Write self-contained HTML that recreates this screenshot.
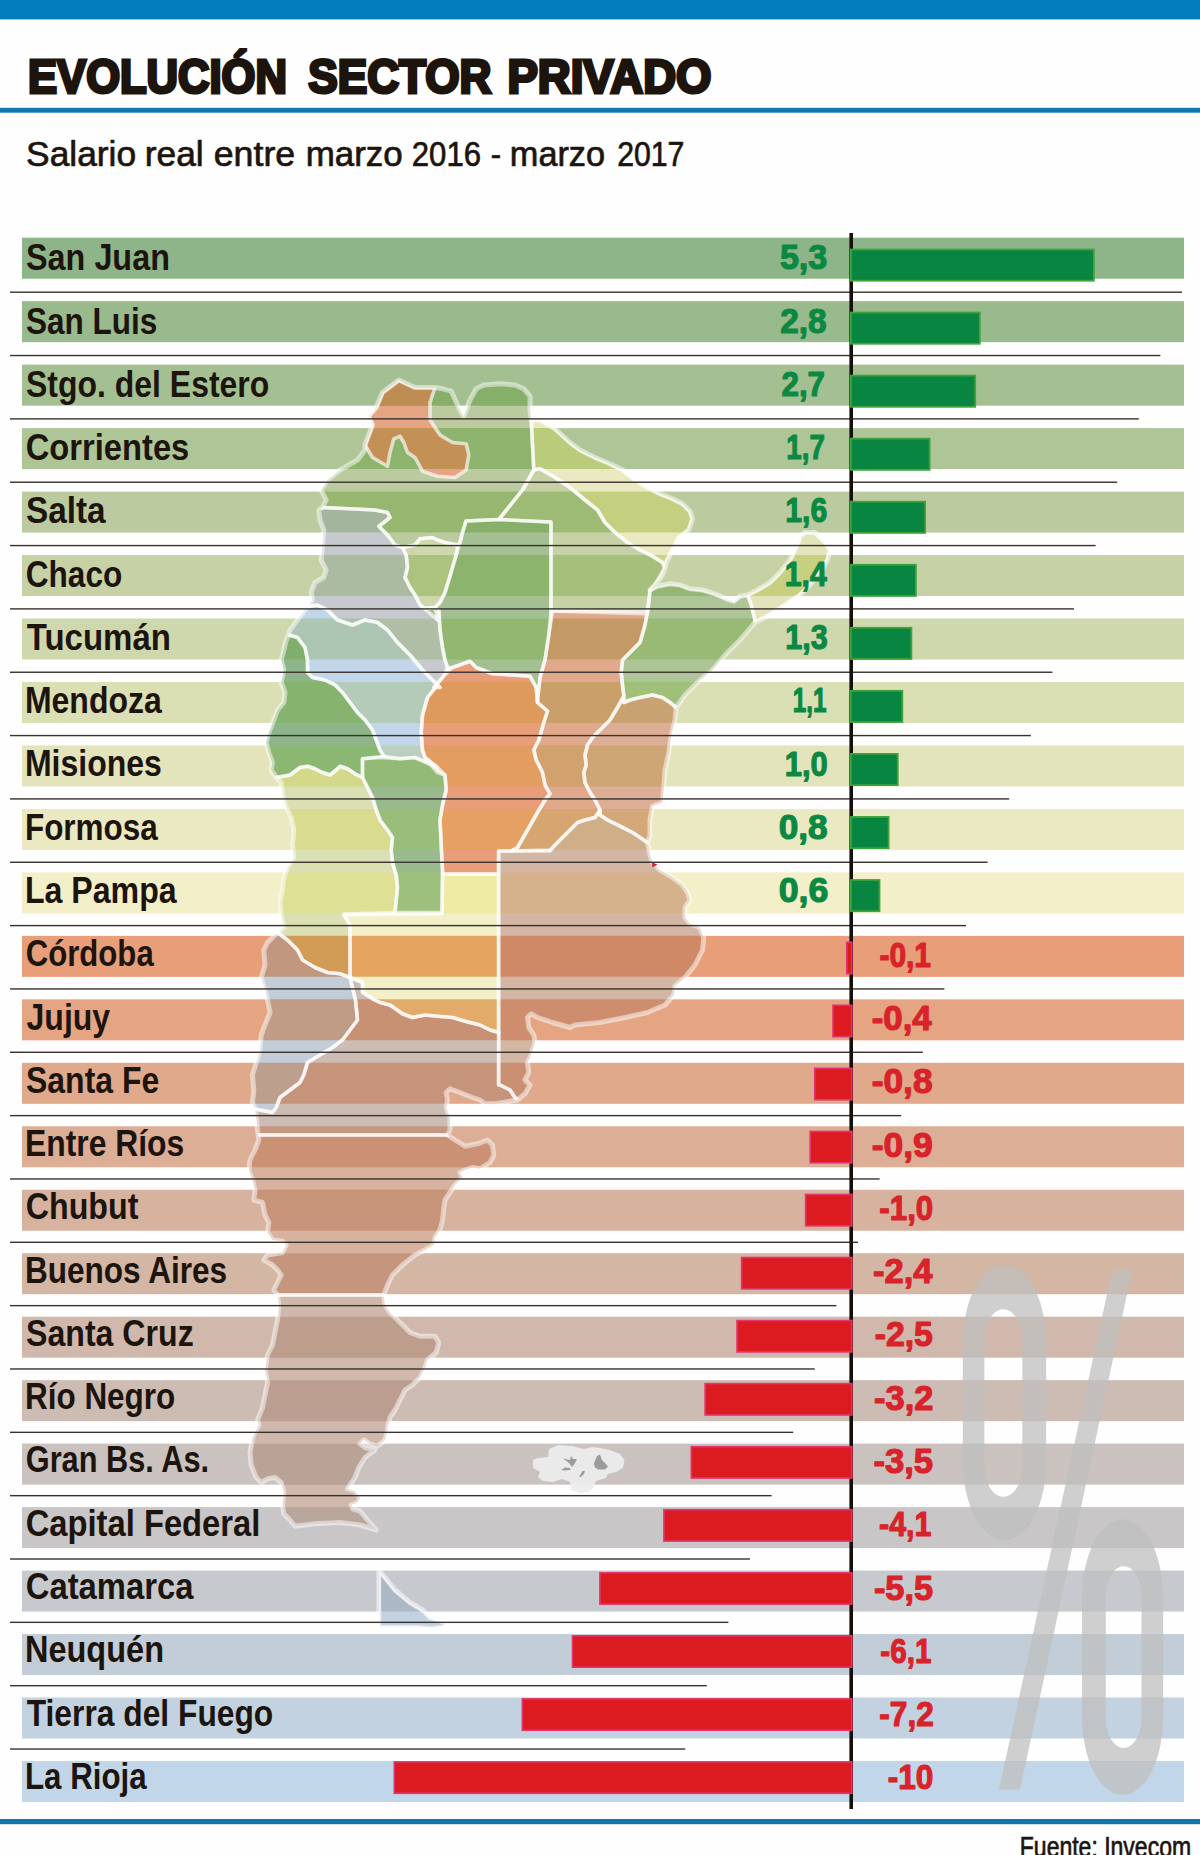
<!DOCTYPE html>
<html lang="es"><head><meta charset="utf-8"><title>Evolución sector privado</title>
<style>
html,body{margin:0;padding:0;background:#fff}
body{width:1200px;height:1855px;overflow:hidden}
svg{display:block;font-family:"Liberation Sans",sans-serif}
</style></head><body>
<svg width="1200" height="1855" viewBox="0 0 1200 1855">
<rect width="1200" height="1855" fill="#fefefe"/>
<rect x="0" y="0" width="1200" height="19.4" fill="#037cbb"/>
<rect x="0" y="107.8" width="1200" height="4.9" fill="#1076ae"/>
<rect x="0" y="1819" width="1200" height="5.2" fill="#1076ae"/>

<text transform="translate(28.07,92.90) scale(0.9186,1)" font-size="47.4" font-weight="bold" fill="#1c140d" stroke="#1c140d" stroke-width="3.2" stroke-linejoin="miter" stroke-miterlimit="2.5">EVOLUCIÓN</text>
<text transform="translate(308.28,92.90) scale(0.9315,1)" font-size="47.4" font-weight="bold" fill="#1c140d" stroke="#1c140d" stroke-width="3.2" stroke-linejoin="miter" stroke-miterlimit="2.5">SECTOR</text>
<text transform="translate(507.44,92.90) scale(0.9606,1)" font-size="47.4" font-weight="bold" fill="#1c140d" stroke="#1c140d" stroke-width="3.2" stroke-linejoin="miter" stroke-miterlimit="2.5">PRIVADO</text>
<text transform="translate(26.06,165.55) scale(0.9936,1)" font-size="35.6" font-weight="normal" fill="#1c140d" stroke="#1c140d" stroke-width="0.7" stroke-linejoin="round" stroke-miterlimit="2.5">Salario</text>
<text transform="translate(144.75,165.55) scale(0.9937,1)" font-size="35.6" font-weight="normal" fill="#1c140d" stroke="#1c140d" stroke-width="0.7" stroke-linejoin="round" stroke-miterlimit="2.5">real</text>
<text transform="translate(213.74,165.55) scale(1.0043,1)" font-size="35.6" font-weight="normal" fill="#1c140d" stroke="#1c140d" stroke-width="0.7" stroke-linejoin="round" stroke-miterlimit="2.5">entre</text>
<text transform="translate(305.68,165.55) scale(0.9816,1)" font-size="35.6" font-weight="normal" fill="#1c140d" stroke="#1c140d" stroke-width="0.7" stroke-linejoin="round" stroke-miterlimit="2.5">marzo</text>
<text transform="translate(411.79,165.55) scale(0.8743,1)" font-size="35.6" font-weight="normal" fill="#1c140d" stroke="#1c140d" stroke-width="0.7" stroke-linejoin="round" stroke-miterlimit="2.5">2016</text>
<text transform="translate(490.65,165.55) scale(0.8714,1)" font-size="35.6" font-weight="normal" fill="#1c140d" stroke="#1c140d" stroke-width="0.7" stroke-linejoin="round" stroke-miterlimit="2.5">-</text>
<text transform="translate(509.82,165.55) scale(0.9637,1)" font-size="35.6" font-weight="normal" fill="#1c140d" stroke="#1c140d" stroke-width="0.7" stroke-linejoin="round" stroke-miterlimit="2.5">marzo</text>
<text transform="translate(617.14,165.55) scale(0.8500,1)" font-size="35.6" font-weight="normal" fill="#1c140d" stroke="#1c140d" stroke-width="0.7" stroke-linejoin="round" stroke-miterlimit="2.5">2017</text>
<g id="bands">
<rect x="22" y="237.70" width="1162" height="41.0" fill="#8db589"/>
<rect x="22" y="301.17" width="1162" height="41.0" fill="#98ba8d"/>
<rect x="22" y="364.64" width="1162" height="41.0" fill="#a4c092"/>
<rect x="22" y="428.11" width="1162" height="41.0" fill="#aec598"/>
<rect x="22" y="491.58" width="1162" height="41.0" fill="#bccb9f"/>
<rect x="22" y="555.05" width="1162" height="41.0" fill="#c6d2a6"/>
<rect x="22" y="618.52" width="1162" height="41.0" fill="#cfd7ac"/>
<rect x="22" y="681.99" width="1162" height="41.0" fill="#dadfb4"/>
<rect x="22" y="745.46" width="1162" height="41.0" fill="#e3e4bb"/>
<rect x="22" y="808.93" width="1162" height="41.0" fill="#ebe9c2"/>
<rect x="22" y="872.40" width="1162" height="41.0" fill="#f3efc9"/>
<rect x="22" y="935.87" width="1162" height="41.0" fill="#e89e78"/>
<rect x="22" y="999.34" width="1162" height="41.0" fill="#e5a583"/>
<rect x="22" y="1062.81" width="1162" height="41.0" fill="#e0a98b"/>
<rect x="22" y="1126.28" width="1162" height="41.0" fill="#dcae95"/>
<rect x="22" y="1189.75" width="1162" height="41.0" fill="#d7b29e"/>
<rect x="22" y="1253.22" width="1162" height="41.0" fill="#d4b6a5"/>
<rect x="22" y="1316.69" width="1162" height="41.0" fill="#d0b9ac"/>
<rect x="22" y="1380.16" width="1162" height="41.0" fill="#cdbcb3"/>
<rect x="22" y="1443.63" width="1162" height="41.0" fill="#cac2be"/>
<rect x="22" y="1507.10" width="1162" height="41.0" fill="#c8c6c6"/>
<rect x="22" y="1570.57" width="1162" height="41.0" fill="#c6cacf"/>
<rect x="22" y="1634.04" width="1162" height="41.0" fill="#c3cdd8"/>
<rect x="22" y="1697.51" width="1162" height="41.0" fill="#c2d2e0"/>
<rect x="22" y="1760.98" width="1162" height="41.0" fill="#c1d6e8"/>
</g>
<defs>
<clipPath id="sil"><polygon points="398.8,380.0 415.0,387.5 435.0,387.5 442.5,388.8 451.2,391.2 457.5,405.0 461.2,412.5 463.8,416.2 466.2,410.0 470.0,400.0 476.2,388.8 483.8,385.0 500.0,383.8 515.0,385.0 523.8,388.8 530.0,396.2 530.0,410.0 531.2,420.0 540.0,420.0 555.0,428.8 570.0,442.5 580.0,450.0 595.0,457.5 610.0,463.8 622.5,470.0 635.0,480.0 647.5,487.5 660.0,493.8 672.5,498.8 682.5,503.8 690.0,511.2 692.5,518.8 688.8,530.0 678.8,537.5 672.5,550.0 666.2,562.5 665.0,567.5 662.5,575.0 655.0,585.0 650.0,590.0 657.5,586.2 670.0,583.8 680.0,585.0 690.0,588.8 702.5,590.0 715.0,593.8 726.2,598.8 733.8,601.2 740.0,596.2 747.5,595.0 757.5,590.0 770.0,582.5 780.0,572.5 790.0,560.0 797.5,545.0 800.0,536.2 805.0,532.5 815.0,532.5 825.0,542.5 830.0,550.0 827.5,560.0 820.0,572.5 810.0,585.0 800.0,595.0 790.0,601.2 777.5,610.0 765.0,617.5 755.0,622.5 740.0,640.0 725.0,655.0 712.5,670.0 700.0,680.0 685.0,695.0 676.2,707.5 675.0,720.0 671.2,735.0 668.8,752.5 665.0,770.0 663.8,787.5 662.5,802.5 652.5,806.2 650.0,820.0 650.0,835.0 647.5,842.5 650.0,855.0 652.5,862.5 660.0,870.0 672.5,877.5 682.5,885.0 687.5,892.5 690.0,900.0 685.0,907.5 685.0,917.5 690.0,923.8 700.0,927.5 703.8,937.5 702.5,950.0 695.0,965.0 685.0,977.5 675.0,986.2 673.8,995.0 665.0,1005.0 647.5,1012.5 625.0,1017.5 600.0,1022.5 575.0,1025.0 570.0,1027.5 552.5,1022.5 537.5,1017.5 531.2,1013.8 527.5,1017.5 528.8,1027.5 533.8,1035.0 535.0,1042.5 531.2,1055.0 527.5,1062.5 528.8,1072.5 525.0,1080.0 530.0,1085.0 525.0,1093.8 517.5,1100.0 495.0,1103.8 485.0,1103.8 480.0,1100.0 472.5,1097.5 460.0,1092.5 450.0,1088.8 446.2,1092.5 447.5,1100.0 446.2,1107.5 450.0,1117.5 450.0,1130.0 447.5,1135.0 455.0,1140.0 465.0,1146.2 477.5,1143.8 487.5,1140.0 492.5,1145.0 493.8,1155.0 490.0,1162.5 480.0,1168.8 472.5,1167.5 465.0,1170.0 460.0,1172.5 462.5,1177.5 455.0,1185.0 450.0,1192.5 445.0,1200.0 443.8,1207.5 442.5,1220.0 440.0,1230.0 435.0,1237.5 433.8,1245.0 425.0,1250.0 415.0,1255.0 402.5,1265.0 392.5,1275.0 387.5,1285.0 383.8,1295.0 385.0,1305.0 390.0,1312.5 400.0,1322.5 410.0,1332.5 420.0,1336.2 435.0,1336.2 438.8,1342.5 436.2,1352.5 427.5,1360.0 425.0,1367.5 420.0,1377.5 412.5,1385.0 405.0,1390.0 400.0,1400.0 395.0,1410.0 390.0,1417.5 387.5,1427.5 387.5,1430.0 385.0,1440.0 377.5,1446.2 370.0,1443.8 363.8,1440.0 360.0,1443.8 365.0,1447.5 375.0,1450.0 365.0,1457.5 358.8,1467.5 355.0,1477.5 350.0,1485.0 347.5,1488.8 355.0,1491.2 360.0,1497.5 357.5,1502.5 351.2,1505.0 352.5,1508.8 360.0,1511.2 367.5,1520.0 376.2,1530.0 360.0,1525.0 340.0,1522.5 315.0,1523.8 295.0,1526.2 290.0,1520.0 283.8,1513.8 282.5,1505.0 283.8,1492.5 281.2,1482.5 275.0,1477.5 267.5,1478.8 261.2,1482.5 256.2,1477.5 251.2,1465.0 250.0,1452.5 252.5,1437.5 258.8,1425.0 257.5,1420.0 262.5,1407.5 265.0,1395.0 267.5,1382.5 265.0,1370.0 267.5,1355.0 272.5,1345.0 275.0,1332.5 277.5,1320.0 278.8,1305.0 277.5,1295.0 273.8,1290.0 277.5,1282.5 281.2,1275.0 277.5,1270.0 272.5,1265.0 263.8,1260.0 267.5,1255.0 282.5,1252.5 286.2,1245.0 282.5,1241.2 272.5,1240.0 267.5,1232.5 268.8,1222.5 265.0,1215.0 262.5,1202.5 253.8,1200.0 255.0,1190.0 252.5,1180.0 248.8,1170.0 250.0,1160.0 255.0,1150.0 258.8,1140.0 257.5,1130.0 256.2,1117.5 255.0,1108.8 252.5,1102.5 253.8,1090.0 252.5,1075.0 256.2,1062.5 260.0,1050.0 261.2,1035.0 265.0,1025.0 270.0,1012.5 267.5,1000.0 265.0,990.0 261.2,977.5 265.0,965.0 263.8,950.0 267.5,942.5 277.5,932.5 283.8,927.5 281.2,915.0 280.0,902.5 282.5,890.0 283.8,877.5 287.5,867.5 293.8,857.5 292.5,845.0 293.8,830.0 291.2,817.5 286.2,807.5 282.5,795.0 281.2,782.5 276.2,777.5 271.2,770.0 272.5,762.5 268.8,752.5 266.2,742.5 268.8,732.5 273.8,720.0 277.5,710.0 283.8,702.5 285.0,692.5 281.2,682.5 283.8,670.0 281.2,660.0 283.8,650.0 286.2,640.0 287.5,637.5 290.0,630.0 297.5,620.0 305.0,610.0 312.5,600.0 311.2,592.5 315.0,582.5 323.8,577.5 326.2,570.0 321.2,560.0 322.5,545.0 323.8,530.0 320.0,520.0 318.8,510.0 322.5,507.5 326.2,500.0 321.2,490.0 327.5,480.0 340.0,470.0 357.5,460.0 365.0,450.0 365.0,445.0 372.5,425.0 368.8,416.2 376.2,407.5 382.5,392.5"/><polygon points="378.8,1570.0 385.0,1577.5 395.0,1590.0 410.0,1602.5 422.5,1610.0 430.0,1617.5 447.5,1623.8 442.5,1627.5 430.0,1628.8 415.0,1627.5 378.8,1627.5"/></clipPath>
<clipPath id="b0"><rect x="200" y="237.70" width="700" height="41.0"/></clipPath>
<clipPath id="b1"><rect x="200" y="301.17" width="700" height="41.0"/></clipPath>
<clipPath id="b2"><rect x="200" y="364.64" width="700" height="41.0"/></clipPath>
<clipPath id="b3"><rect x="200" y="428.11" width="700" height="41.0"/></clipPath>
<clipPath id="b4"><rect x="200" y="491.58" width="700" height="41.0"/></clipPath>
<clipPath id="b5"><rect x="200" y="555.05" width="700" height="41.0"/></clipPath>
<clipPath id="b6"><rect x="200" y="618.52" width="700" height="41.0"/></clipPath>
<clipPath id="b7"><rect x="200" y="681.99" width="700" height="41.0"/></clipPath>
<clipPath id="b8"><rect x="200" y="745.46" width="700" height="41.0"/></clipPath>
<clipPath id="b9"><rect x="200" y="808.93" width="700" height="41.0"/></clipPath>
<clipPath id="b10"><rect x="200" y="872.40" width="700" height="41.0"/></clipPath>
<clipPath id="b11"><rect x="200" y="935.87" width="700" height="41.0"/></clipPath>
<clipPath id="b12"><rect x="200" y="999.34" width="700" height="41.0"/></clipPath>
<clipPath id="b13"><rect x="200" y="1062.81" width="700" height="41.0"/></clipPath>
<clipPath id="b14"><rect x="200" y="1126.28" width="700" height="41.0"/></clipPath>
<clipPath id="b15"><rect x="200" y="1189.75" width="700" height="41.0"/></clipPath>
<clipPath id="b16"><rect x="200" y="1253.22" width="700" height="41.0"/></clipPath>
<clipPath id="b17"><rect x="200" y="1316.69" width="700" height="41.0"/></clipPath>
<clipPath id="b18"><rect x="200" y="1380.16" width="700" height="41.0"/></clipPath>
<clipPath id="b19"><rect x="200" y="1443.63" width="700" height="41.0"/></clipPath>
<clipPath id="b20"><rect x="200" y="1507.10" width="700" height="41.0"/></clipPath>
<clipPath id="b21"><rect x="200" y="1570.57" width="700" height="41.0"/></clipPath>
<clipPath id="b22"><rect x="200" y="1634.04" width="700" height="41.0"/></clipPath>
<clipPath id="b23"><rect x="200" y="1697.51" width="700" height="41.0"/></clipPath>
<clipPath id="b24"><rect x="200" y="1760.98" width="700" height="41.0"/></clipPath>
<polygon id="p_santacruz" points="200.0,1295.0 900.0,1295.0 900.0,1560.0 200.0,1560.0"/>
<polygon id="p_chubut" points="200.0,1135.0 900.0,1135.0 900.0,1295.0 200.0,1295.0"/>
<polygon id="p_rionegro" points="357.5,1020.0 355.5,1000.0 350.0,977.5 350.0,977.5 362.5,982.5 362.5,992.5 372.5,998.8 380.0,1002.5 390.0,1005.0 402.5,1013.8 412.5,1017.5 425.0,1015.0 437.5,1016.2 452.5,1017.5 465.0,1021.2 480.0,1025.0 490.0,1030.0 498.8,1032.5 498.6,1085.0 500.0,1085.0 510.0,1090.0 515.0,1097.5 517.5,1100.0 600.0,1100.0 600.0,1135.0 200.0,1135.0 200.0,1109.0 255.0,1109.0 272.5,1112.5 276.2,1107.5 280.0,1097.5 290.0,1090.0 300.0,1082.5 303.8,1075.0 307.5,1062.5 320.0,1055.0 332.5,1047.5 342.5,1040.0 350.0,1030.0"/>
<polygon id="p_neuquen" points="200.0,900.0 277.5,932.5 287.5,940.0 297.5,950.0 302.5,960.0 315.0,967.5 327.5,972.5 340.0,973.8 350.0,977.5 350.0,977.5 355.5,1000.0 357.5,1020.0 350.0,1030.0 342.5,1040.0 332.5,1047.5 320.0,1055.0 307.5,1062.5 303.8,1075.0 300.0,1082.5 290.0,1090.0 280.0,1097.5 276.2,1107.5 272.5,1112.5 255.0,1109.0 200.0,1109.0"/>
<polygon id="p_lapampa" points="442.6,874.0 498.6,874.0 498.6,1032.5 498.8,1032.5 490.0,1030.0 480.0,1025.0 465.0,1021.2 452.5,1017.5 437.5,1016.2 425.0,1015.0 412.5,1017.5 402.5,1013.8 390.0,1005.0 380.0,1002.5 372.5,998.8 362.5,992.5 362.5,982.5 350.0,977.5 350.0,977.5 350.0,925.0 343.8,915.0 442.0,914.0"/>
<polygon id="p_buenosaires" points="498.6,851.0 550.0,851.0 555.0,845.0 562.5,837.5 570.0,830.0 577.5,822.5 585.0,820.0 595.0,817.5 600.0,810.0 600.0,815.0 607.5,820.0 620.0,826.2 632.5,832.5 640.0,837.5 647.5,842.5 700.0,840.0 760.0,900.0 760.0,1000.0 600.0,1130.0 517.5,1100.0 515.0,1097.5 510.0,1090.0 500.0,1085.0 498.6,1085.0"/>
<polygon id="p_mendoza" points="200.0,777.0 276.2,777.5 290.0,775.0 300.0,767.5 307.5,766.2 315.0,768.8 322.5,772.5 330.0,775.0 336.2,770.0 340.0,766.2 347.5,768.8 355.0,773.8 362.5,777.5 362.5,777.5 367.5,787.5 372.5,797.5 376.2,810.0 380.0,820.0 387.5,830.0 392.5,837.5 391.2,850.0 392.5,862.5 396.2,875.0 397.5,887.5 396.2,900.0 395.0,912.5 343.8,914.0 343.8,915.0 350.0,925.0 350.0,977.5 350.0,977.5 340.0,973.8 327.5,972.5 315.0,967.5 302.5,960.0 297.5,950.0 287.5,940.0 277.5,932.5 200.0,932.0"/>
<polygon id="p_sanluis" points="362.5,758.8 380.0,757.5 400.0,758.8 415.0,757.5 430.0,763.8 437.5,772.5 445.0,775.0 446.2,790.0 442.5,805.0 440.0,820.0 441.2,845.0 442.5,870.0 442.0,912.5 395.0,912.5 396.2,900.0 397.5,887.5 396.2,875.0 392.5,862.5 391.2,850.0 392.5,837.5 387.5,830.0 380.0,820.0 376.2,810.0 372.5,797.5 367.5,787.5 362.5,777.5"/>
<polygon id="p_sanjuan" points="200.0,635.0 288.8,635.0 297.5,637.5 305.0,647.5 307.5,660.0 307.5,672.5 312.5,677.5 325.0,680.0 335.0,685.0 342.5,692.5 350.0,702.5 357.5,712.5 365.0,720.0 372.5,730.0 376.2,740.0 380.0,750.0 383.8,756.2 362.5,758.8 362.5,777.5 355.0,773.8 347.5,768.8 340.0,766.2 336.2,770.0 330.0,775.0 322.5,772.5 315.0,768.8 307.5,766.2 300.0,767.5 290.0,775.0 276.2,777.5 200.0,778.0"/>
<polygon id="p_larioja" points="200.0,607.0 302.5,607.5 317.5,605.0 327.5,610.0 337.5,620.0 352.5,625.0 365.0,620.0 377.5,622.5 387.5,630.0 397.5,642.5 410.0,655.0 422.5,670.0 432.5,680.0 440.0,687.5 437.5,685.0 427.5,697.5 422.5,715.0 421.2,732.5 422.5,750.0 425.0,757.5 437.5,767.5 415.0,757.5 400.0,758.8 383.8,756.2 380.0,750.0 376.2,740.0 372.5,730.0 365.0,720.0 357.5,712.5 350.0,702.5 342.5,692.5 335.0,685.0 325.0,680.0 312.5,677.5 307.5,672.5 307.5,660.0 305.0,647.5 297.5,637.5 288.8,635.0 200.0,635.0"/>
<polygon id="p_catamarca" points="200.0,507.5 322.5,507.5 350.0,508.8 375.0,510.0 387.5,512.5 390.0,517.5 383.8,522.5 378.8,526.2 382.5,530.0 387.5,535.0 395.0,545.0 402.5,547.5 406.2,555.0 407.5,567.5 405.0,577.5 410.0,587.5 415.0,595.0 420.0,605.0 425.0,608.8 435.0,607.5 437.5,620.0 438.8,610.0 440.0,630.0 442.5,647.5 445.0,660.0 447.5,667.5 442.5,677.5 433.8,687.5 440.0,687.5 432.5,680.0 422.5,670.0 410.0,655.0 397.5,642.5 387.5,630.0 377.5,622.5 365.0,620.0 352.5,625.0 337.5,620.0 327.5,610.0 317.5,605.0 302.5,607.5 200.0,607.0"/>
<polygon id="p_tucuman" points="402.5,547.5 415.0,545.0 420.0,538.8 432.5,537.5 437.5,540.0 445.0,542.5 457.5,545.0 456.2,555.0 452.5,567.5 448.8,580.0 445.0,592.5 440.0,602.5 435.0,607.5 425.0,608.8 420.0,605.0 415.0,595.0 410.0,587.5 405.0,577.5 407.5,567.5 406.2,555.0"/>
<polygon id="p_santiago" points="466.0,521.0 498.8,519.5 551.0,522.0 551.0,611.0 548.8,635.0 545.0,660.0 540.0,677.5 537.5,700.0 537.5,702.5 536.2,687.5 530.0,676.2 512.5,675.0 492.5,673.8 476.2,667.5 470.0,661.2 452.5,667.5 447.5,667.5 445.0,660.0 442.5,647.5 440.0,630.0 438.8,610.0 437.5,620.0 425.0,608.8 435.0,607.5 440.0,602.5 445.0,592.5 448.8,580.0 452.5,567.5 456.2,555.0 460.0,542.5 462.5,532.5"/>
<polygon id="p_cordoba" points="433.8,687.5 442.5,677.5 452.5,667.5 470.0,661.2 476.2,667.5 492.5,673.8 512.5,675.0 530.0,676.2 536.2,687.5 537.5,702.5 547.5,711.2 543.8,722.5 538.8,740.0 533.8,750.0 536.2,760.0 542.5,772.5 545.0,785.0 550.0,793.8 545.0,800.0 537.5,812.5 527.5,830.0 517.5,847.5 511.0,851.0 498.6,851.0 498.6,874.0 442.6,874.0 442.5,870.0 441.2,845.0 440.0,820.0 442.5,805.0 446.2,790.0 445.0,775.0 437.5,767.5 425.0,757.5 422.5,750.0 421.2,732.5 422.5,715.0 427.5,697.5 437.5,685.0"/>
<polygon id="p_santafe" points="552.5,611.0 647.5,611.0 645.0,625.0 640.0,642.5 632.5,650.0 622.5,660.0 621.2,672.5 622.5,685.0 623.8,696.2 617.5,707.5 610.0,720.0 600.0,730.0 592.5,737.5 587.5,745.0 585.0,755.0 586.2,765.0 583.8,772.5 585.0,782.5 590.0,792.5 595.0,800.0 600.0,810.0 595.0,817.5 585.0,820.0 577.5,822.5 570.0,830.0 562.5,837.5 555.0,845.0 550.0,850.0 511.0,851.0 517.5,847.5 527.5,830.0 537.5,812.5 545.0,800.0 550.0,793.8 545.0,785.0 542.5,772.5 536.2,760.0 533.8,750.0 538.8,740.0 543.8,722.5 547.5,711.2 537.5,702.5 537.5,700.0 540.0,677.5 545.0,660.0 548.8,635.0"/>
<polygon id="p_entrerios" points="623.8,702.5 630.0,700.0 640.0,697.5 652.5,695.0 662.5,697.5 670.0,702.5 676.2,707.5 720.0,720.0 720.0,850.0 647.5,842.5 640.0,837.5 632.5,832.5 620.0,826.2 607.5,820.0 600.0,815.0 600.0,810.0 595.0,800.0 590.0,792.5 585.0,782.5 583.8,772.5 586.2,765.0 585.0,755.0 587.5,745.0 592.5,737.5 600.0,730.0 610.0,720.0 617.5,707.5 623.8,696.2"/>
<polygon id="p_corrientes" points="650.0,590.0 657.5,586.2 670.0,583.8 680.0,585.0 690.0,588.8 702.5,590.0 715.0,593.8 726.2,598.8 733.8,601.2 740.0,596.2 747.5,595.0 751.2,605.0 755.0,620.0 780.0,640.0 700.0,720.0 676.2,707.5 670.0,702.5 662.5,697.5 652.5,695.0 640.0,697.5 630.0,700.0 623.8,702.5 623.8,696.2 622.5,685.0 621.2,672.5 622.5,660.0 632.5,650.0 640.0,642.5 645.0,625.0 647.5,611.0"/>
<polygon id="p_misiones" points="747.5,595.0 757.5,590.0 770.0,582.5 780.0,572.5 790.0,560.0 797.5,545.0 800.0,536.2 805.0,532.5 815.0,532.5 825.0,542.5 830.0,550.0 827.5,560.0 820.0,572.5 810.0,585.0 800.0,595.0 790.0,601.2 777.5,610.0 765.0,617.5 755.0,622.5 755.0,620.0 751.2,605.0"/>
<polygon id="p_chaco" points="533.8,470.0 540.0,468.8 555.0,477.5 570.0,487.5 585.0,500.0 597.5,510.0 605.0,522.5 615.0,532.5 627.5,542.5 640.0,550.0 652.5,556.2 662.5,562.5 665.0,567.5 655.0,585.0 650.0,590.0 648.8,602.5 647.5,613.8 552.5,611.0 551.0,611.0 551.0,522.0 498.8,519.5 512.5,502.5 522.5,490.0"/>
<polygon id="p_formosa" points="531.2,420.0 540.0,420.0 555.0,428.8 570.0,442.5 580.0,450.0 595.0,457.5 610.0,463.8 622.5,470.0 635.0,480.0 647.5,487.5 660.0,493.8 672.5,498.8 682.5,503.8 690.0,511.2 692.5,518.8 688.8,530.0 678.8,537.5 672.5,550.0 666.2,562.5 665.0,567.5 665.0,567.5 662.5,562.5 652.5,556.2 640.0,550.0 627.5,542.5 615.0,532.5 605.0,522.5 597.5,510.0 585.0,500.0 570.0,487.5 555.0,477.5 540.0,468.8 533.8,470.0 532.5,445.0"/>
<polygon id="p_salta" points="200.0,380.0 600.0,380.0 531.2,420.0 532.5,445.0 533.8,470.0 522.5,490.0 512.5,502.5 498.8,519.5 466.0,521.0 462.5,532.5 460.0,542.5 457.5,545.0 445.0,542.5 437.5,540.0 432.5,537.5 420.0,538.8 415.0,545.0 402.5,547.5 402.5,547.5 395.0,545.0 387.5,535.0 382.5,530.0 378.8,526.2 383.8,522.5 390.0,517.5 387.5,512.5 375.0,510.0 350.0,508.8 322.5,507.5 200.0,507.5"/>
<polygon id="p_jujuy" points="398.8,380.0 415.0,387.5 435.0,387.5 430.0,402.5 430.0,420.0 440.0,435.0 452.5,442.5 466.2,443.8 468.8,455.0 466.2,470.0 455.0,477.5 437.5,476.2 422.5,471.2 415.0,457.5 407.5,452.5 403.8,442.5 400.0,436.2 393.8,438.8 390.0,452.5 387.5,466.2 372.5,457.5 365.0,445.0 372.5,425.0 368.8,416.2 376.2,407.5 382.5,392.5"/>
<polygon id="p_tdf" points="378.8,1570.0 385.0,1577.5 395.0,1590.0 410.0,1602.5 422.5,1610.0 430.0,1617.5 447.5,1623.8 442.5,1627.5 430.0,1628.8 415.0,1627.5 378.8,1627.5"/>
</defs>
<g clip-path="url(#sil)">
<g>
<use href="#p_santacruz" fill="#d0b9ac"/>
<use href="#p_chubut" fill="#d7b29e"/>
<use href="#p_rionegro" fill="#cdbcb3"/>
<use href="#p_neuquen" fill="#c3cdd8"/>
<use href="#p_lapampa" fill="#f3efc9"/>
<use href="#p_buenosaires" fill="#d4b6a5"/>
<use href="#p_mendoza" fill="#dadfb4"/>
<use href="#p_sanluis" fill="#98ba8d"/>
<use href="#p_sanjuan" fill="#8db589"/>
<use href="#p_larioja" fill="#c1d6e8"/>
<use href="#p_catamarca" fill="#c6cacf"/>
<use href="#p_salta" fill="#bccb9f"/>
<use href="#p_formosa" fill="#ebe9c2"/>
<use href="#p_chaco" fill="#c6d2a6"/>
<use href="#p_misiones" fill="#e3e4bb"/>
<use href="#p_corrientes" fill="#aec598"/>
<use href="#p_entrerios" fill="#dcae95"/>
<use href="#p_santafe" fill="#e0a98b"/>
<use href="#p_cordoba" fill="#e89e78"/>
<use href="#p_santiago" fill="#a4c092"/>
<use href="#p_tucuman" fill="#cfd7ac"/>
<use href="#p_jujuy" fill="#e5a583"/>
<use href="#p_tdf" fill="#c2d2e0"/>
</g>
<g clip-path="url(#b2)"><use href="#p_salta" fill="#86af69"/><use href="#p_jujuy" fill="#bd8d53"/></g>
<g clip-path="url(#b3)"><use href="#p_salta" fill="#8db36d"/><use href="#p_formosa" fill="#bacb7a"/><use href="#p_chaco" fill="#94b771"/><use href="#p_jujuy" fill="#c39056"/></g>
<g clip-path="url(#b4)"><use href="#p_catamarca" fill="#a3b69d"/><use href="#p_salta" fill="#97b771"/><use href="#p_formosa" fill="#c4cf7f"/><use href="#p_chaco" fill="#9ebb75"/><use href="#p_misiones" fill="#c0cc7b"/><use href="#p_santiago" fill="#86af69"/></g>
<g clip-path="url(#b5)"><use href="#p_catamarca" fill="#aabba2"/><use href="#p_formosa" fill="#cbd385"/><use href="#p_chaco" fill="#a5c07a"/><use href="#p_misiones" fill="#c6d080"/><use href="#p_corrientes" fill="#94b771"/><use href="#p_santiago" fill="#8cb46d"/><use href="#p_tucuman" fill="#abc37e"/></g>
<g clip-path="url(#b6)"><use href="#p_sanjuan" fill="#80af6b"/><use href="#p_larioja" fill="#adc6b4"/><use href="#p_catamarca" fill="#b0bea6"/><use href="#p_misiones" fill="#ccd485"/><use href="#p_corrientes" fill="#99ba74"/><use href="#p_santafe" fill="#c39a65"/><use href="#p_santiago" fill="#92b771"/></g>
<g clip-path="url(#b7)"><use href="#p_sanjuan" fill="#86b46f"/><use href="#p_larioja" fill="#b4cbba"/><use href="#p_catamarca" fill="#b8c3ac"/><use href="#p_corrientes" fill="#a0c079"/><use href="#p_entrerios" fill="#c8a270"/><use href="#p_santafe" fill="#cb9f69"/><use href="#p_cordoba" fill="#de9a5d"/><use href="#p_santiago" fill="#98bc75"/></g>
<g clip-path="url(#b8)"><use href="#p_mendoza" fill="#d4d98a"/><use href="#p_sanluis" fill="#94bb75"/><use href="#p_sanjuan" fill="#8bb772"/><use href="#p_larioja" fill="#bacfbf"/><use href="#p_entrerios" fill="#cea574"/><use href="#p_santafe" fill="#d1a26d"/><use href="#p_cordoba" fill="#e39d60"/></g>
<g clip-path="url(#b9)"><use href="#p_buenosaires" fill="#cfae88"/><use href="#p_mendoza" fill="#d9dc8f"/><use href="#p_sanluis" fill="#98be79"/><use href="#p_entrerios" fill="#d4a878"/><use href="#p_santafe" fill="#d7a570"/><use href="#p_cordoba" fill="#e7a063"/></g>
<g clip-path="url(#b10)"><use href="#p_neuquen" fill="#c6cfbf"/><use href="#p_lapampa" fill="#efeaa4"/><use href="#p_buenosaires" fill="#d5b28c"/><use href="#p_mendoza" fill="#dee094"/><use href="#p_sanluis" fill="#9dc17d"/><use href="#p_cordoba" fill="#eca366"/></g>
<g clip-path="url(#b11)"><use href="#p_neuquen" fill="#c2977f"/><use href="#p_lapampa" fill="#e4a560"/><use href="#p_buenosaires" fill="#d08966"/><use href="#p_mendoza" fill="#d29c57"/></g>
<g clip-path="url(#b12)"><use href="#p_rionegro" fill="#c99174"/><use href="#p_neuquen" fill="#c09c87"/><use href="#p_lapampa" fill="#e2ab69"/><use href="#p_buenosaires" fill="#ce8e6d"/></g>
<g clip-path="url(#b13)"><use href="#p_rionegro" fill="#c6947a"/><use href="#p_neuquen" fill="#bd9f8e"/><use href="#p_buenosaires" fill="#cb9072"/></g>
<g clip-path="url(#b14)"><use href="#p_chubut" fill="#ca9175"/><use href="#p_rionegro" fill="#c39780"/><use href="#p_buenosaires" fill="#c89479"/></g>
<g clip-path="url(#b15)"><use href="#p_chubut" fill="#c7947a"/></g>
<g clip-path="url(#b16)"><use href="#p_chubut" fill="#c5967e"/></g>
<g clip-path="url(#b17)"><use href="#p_santacruz" fill="#bd9d8b"/></g>
<g clip-path="url(#b18)"><use href="#p_santacruz" fill="#bb9e8f"/></g>
<g clip-path="url(#b19)"><use href="#p_santacruz" fill="#b9a296"/></g>
<g clip-path="url(#b20)"><use href="#p_santacruz" fill="#b8a59b"/></g>
<g clip-path="url(#b21)"><use href="#p_tdf" fill="#acb9c5"/></g>
<g fill="none" stroke="#fff" stroke-opacity=".66" stroke-width="3.6" stroke-linejoin="round">
<use href="#p_santacruz"/>
<use href="#p_chubut"/>
<use href="#p_rionegro"/>
<use href="#p_neuquen"/>
<use href="#p_lapampa"/>
<use href="#p_buenosaires"/>
<use href="#p_mendoza"/>
<use href="#p_sanluis"/>
<use href="#p_sanjuan"/>
<use href="#p_larioja"/>
<use href="#p_catamarca"/>
<use href="#p_salta"/>
<use href="#p_formosa"/>
<use href="#p_chaco"/>
<use href="#p_misiones"/>
<use href="#p_corrientes"/>
<use href="#p_entrerios"/>
<use href="#p_santafe"/>
<use href="#p_cordoba"/>
<use href="#p_santiago"/>
<use href="#p_tucuman"/>
<use href="#p_jujuy"/>
<use href="#p_tdf"/>
</g>
</g>
<g fill="none" stroke="#fff" stroke-opacity=".5" stroke-width="5" stroke-linejoin="round"><polygon points="398.8,380.0 415.0,387.5 435.0,387.5 442.5,388.8 451.2,391.2 457.5,405.0 461.2,412.5 463.8,416.2 466.2,410.0 470.0,400.0 476.2,388.8 483.8,385.0 500.0,383.8 515.0,385.0 523.8,388.8 530.0,396.2 530.0,410.0 531.2,420.0 540.0,420.0 555.0,428.8 570.0,442.5 580.0,450.0 595.0,457.5 610.0,463.8 622.5,470.0 635.0,480.0 647.5,487.5 660.0,493.8 672.5,498.8 682.5,503.8 690.0,511.2 692.5,518.8 688.8,530.0 678.8,537.5 672.5,550.0 666.2,562.5 665.0,567.5 662.5,575.0 655.0,585.0 650.0,590.0 657.5,586.2 670.0,583.8 680.0,585.0 690.0,588.8 702.5,590.0 715.0,593.8 726.2,598.8 733.8,601.2 740.0,596.2 747.5,595.0 757.5,590.0 770.0,582.5 780.0,572.5 790.0,560.0 797.5,545.0 800.0,536.2 805.0,532.5 815.0,532.5 825.0,542.5 830.0,550.0 827.5,560.0 820.0,572.5 810.0,585.0 800.0,595.0 790.0,601.2 777.5,610.0 765.0,617.5 755.0,622.5 740.0,640.0 725.0,655.0 712.5,670.0 700.0,680.0 685.0,695.0 676.2,707.5 675.0,720.0 671.2,735.0 668.8,752.5 665.0,770.0 663.8,787.5 662.5,802.5 652.5,806.2 650.0,820.0 650.0,835.0 647.5,842.5 650.0,855.0 652.5,862.5 660.0,870.0 672.5,877.5 682.5,885.0 687.5,892.5 690.0,900.0 685.0,907.5 685.0,917.5 690.0,923.8 700.0,927.5 703.8,937.5 702.5,950.0 695.0,965.0 685.0,977.5 675.0,986.2 673.8,995.0 665.0,1005.0 647.5,1012.5 625.0,1017.5 600.0,1022.5 575.0,1025.0 570.0,1027.5 552.5,1022.5 537.5,1017.5 531.2,1013.8 527.5,1017.5 528.8,1027.5 533.8,1035.0 535.0,1042.5 531.2,1055.0 527.5,1062.5 528.8,1072.5 525.0,1080.0 530.0,1085.0 525.0,1093.8 517.5,1100.0 495.0,1103.8 485.0,1103.8 480.0,1100.0 472.5,1097.5 460.0,1092.5 450.0,1088.8 446.2,1092.5 447.5,1100.0 446.2,1107.5 450.0,1117.5 450.0,1130.0 447.5,1135.0 455.0,1140.0 465.0,1146.2 477.5,1143.8 487.5,1140.0 492.5,1145.0 493.8,1155.0 490.0,1162.5 480.0,1168.8 472.5,1167.5 465.0,1170.0 460.0,1172.5 462.5,1177.5 455.0,1185.0 450.0,1192.5 445.0,1200.0 443.8,1207.5 442.5,1220.0 440.0,1230.0 435.0,1237.5 433.8,1245.0 425.0,1250.0 415.0,1255.0 402.5,1265.0 392.5,1275.0 387.5,1285.0 383.8,1295.0 385.0,1305.0 390.0,1312.5 400.0,1322.5 410.0,1332.5 420.0,1336.2 435.0,1336.2 438.8,1342.5 436.2,1352.5 427.5,1360.0 425.0,1367.5 420.0,1377.5 412.5,1385.0 405.0,1390.0 400.0,1400.0 395.0,1410.0 390.0,1417.5 387.5,1427.5 387.5,1430.0 385.0,1440.0 377.5,1446.2 370.0,1443.8 363.8,1440.0 360.0,1443.8 365.0,1447.5 375.0,1450.0 365.0,1457.5 358.8,1467.5 355.0,1477.5 350.0,1485.0 347.5,1488.8 355.0,1491.2 360.0,1497.5 357.5,1502.5 351.2,1505.0 352.5,1508.8 360.0,1511.2 367.5,1520.0 376.2,1530.0 360.0,1525.0 340.0,1522.5 315.0,1523.8 295.0,1526.2 290.0,1520.0 283.8,1513.8 282.5,1505.0 283.8,1492.5 281.2,1482.5 275.0,1477.5 267.5,1478.8 261.2,1482.5 256.2,1477.5 251.2,1465.0 250.0,1452.5 252.5,1437.5 258.8,1425.0 257.5,1420.0 262.5,1407.5 265.0,1395.0 267.5,1382.5 265.0,1370.0 267.5,1355.0 272.5,1345.0 275.0,1332.5 277.5,1320.0 278.8,1305.0 277.5,1295.0 273.8,1290.0 277.5,1282.5 281.2,1275.0 277.5,1270.0 272.5,1265.0 263.8,1260.0 267.5,1255.0 282.5,1252.5 286.2,1245.0 282.5,1241.2 272.5,1240.0 267.5,1232.5 268.8,1222.5 265.0,1215.0 262.5,1202.5 253.8,1200.0 255.0,1190.0 252.5,1180.0 248.8,1170.0 250.0,1160.0 255.0,1150.0 258.8,1140.0 257.5,1130.0 256.2,1117.5 255.0,1108.8 252.5,1102.5 253.8,1090.0 252.5,1075.0 256.2,1062.5 260.0,1050.0 261.2,1035.0 265.0,1025.0 270.0,1012.5 267.5,1000.0 265.0,990.0 261.2,977.5 265.0,965.0 263.8,950.0 267.5,942.5 277.5,932.5 283.8,927.5 281.2,915.0 280.0,902.5 282.5,890.0 283.8,877.5 287.5,867.5 293.8,857.5 292.5,845.0 293.8,830.0 291.2,817.5 286.2,807.5 282.5,795.0 281.2,782.5 276.2,777.5 271.2,770.0 272.5,762.5 268.8,752.5 266.2,742.5 268.8,732.5 273.8,720.0 277.5,710.0 283.8,702.5 285.0,692.5 281.2,682.5 283.8,670.0 281.2,660.0 283.8,650.0 286.2,640.0 287.5,637.5 290.0,630.0 297.5,620.0 305.0,610.0 312.5,600.0 311.2,592.5 315.0,582.5 323.8,577.5 326.2,570.0 321.2,560.0 322.5,545.0 323.8,530.0 320.0,520.0 318.8,510.0 322.5,507.5 326.2,500.0 321.2,490.0 327.5,480.0 340.0,470.0 357.5,460.0 365.0,450.0 365.0,445.0 372.5,425.0 368.8,416.2 376.2,407.5 382.5,392.5"/><polygon points="378.8,1570.0 385.0,1577.5 395.0,1590.0 410.0,1602.5 422.5,1610.0 430.0,1617.5 447.5,1623.8 442.5,1627.5 430.0,1628.8 415.0,1627.5 378.8,1627.5"/></g>
<polygon points="652,862.5 657.5,864.5 652.5,867.5" fill="#c8232c"/>
<polygon points="533.0,1460.0 538.0,1458.0 548.0,1457.0 549.0,1449.0 558.0,1445.0 572.0,1446.0 584.0,1449.0 592.0,1447.0 600.0,1448.0 610.0,1450.0 620.0,1454.0 624.5,1460.0 623.0,1468.0 616.0,1472.0 608.0,1474.0 606.0,1478.0 596.0,1481.0 594.0,1486.0 590.0,1492.0 580.0,1493.0 571.0,1490.0 570.0,1482.0 562.0,1479.0 553.0,1482.0 543.0,1481.0 538.0,1477.0 540.0,1472.0 533.0,1468.0" fill="#ededed" fill-opacity=".93"/>
<g fill="#9c9c9c"><polygon points="563.0,1458.5 570.0,1460.0 571.0,1456.0 573.0,1459.0 577.0,1459.0 574.5,1464.0 572.0,1467.0 569.0,1463.0"/><polygon points="561.0,1470.0 565.0,1467.5 570.0,1468.0 570.5,1470.0 565.0,1470.5"/><polygon points="594.0,1463.0 597.0,1456.0 600.0,1454.5 602.0,1460.0 605.0,1463.0 608.0,1466.5 605.0,1469.5 598.0,1469.5 594.5,1467.0"/><polygon points="579.0,1477.0 582.5,1471.0 585.0,1471.0 584.0,1474.0 581.0,1477.0"/></g>
<g fill="#38322f">
<rect x="10" y="291.50" width="1172.0" height="1.4"/>
<rect x="10" y="354.84" width="1150.4" height="1.4"/>
<rect x="10" y="418.18" width="1128.8" height="1.4"/>
<rect x="10" y="481.52" width="1107.2" height="1.4"/>
<rect x="10" y="544.86" width="1085.6" height="1.4"/>
<rect x="10" y="608.20" width="1064.0" height="1.4"/>
<rect x="10" y="671.54" width="1042.4" height="1.4"/>
<rect x="10" y="734.88" width="1020.8" height="1.4"/>
<rect x="10" y="798.22" width="999.2" height="1.4"/>
<rect x="10" y="861.56" width="977.6" height="1.4"/>
<rect x="10" y="924.90" width="956.0" height="1.4"/>
<rect x="10" y="988.24" width="934.4" height="1.4"/>
<rect x="10" y="1051.58" width="912.8" height="1.4"/>
<rect x="10" y="1114.92" width="891.2" height="1.4"/>
<rect x="10" y="1178.26" width="869.6" height="1.4"/>
<rect x="10" y="1241.60" width="848.0" height="1.4"/>
<rect x="10" y="1304.94" width="826.4" height="1.4"/>
<rect x="10" y="1368.28" width="804.8" height="1.4"/>
<rect x="10" y="1431.62" width="783.2" height="1.4"/>
<rect x="10" y="1494.96" width="761.6" height="1.4"/>
<rect x="10" y="1558.30" width="740.0" height="1.4"/>
<rect x="10" y="1621.64" width="718.4" height="1.4"/>
<rect x="10" y="1684.98" width="696.8" height="1.4"/>
<rect x="10" y="1748.32" width="675.2" height="1.4"/>
</g>
<path d="M962.8,1343A41.7,78 0 0 1 1046.2,1343L1046.2,1462A41.7,78 0 0 1 962.8,1462ZM984.4,1339.3A18.9,30 0 0 1 1022.3,1339.3L1022.3,1466.8A18.9,30 0 0 1 984.4,1466.8ZM1082,1597.5A40.6,78 0 0 1 1163.2,1597.5L1163.2,1717A40.6,78 0 0 1 1082,1717ZM1105.8,1594A17.9,30 0 0 1 1141.5,1594L1141.5,1720.3A17.9,30 0 0 1 1105.8,1720.3ZM1112.5,1269L1132.5,1269L1020,1789.5L999,1789.5Z" fill="#bfbfbf" fill-opacity=".75" fill-rule="evenodd"/>
<rect x="849.4" y="233" width="3.6" height="1576" fill="#15100c"/>
<rect x="850.9" y="249.50" width="242.9" height="31.2" fill="#078541" stroke="#40a23a" stroke-width="1.8"/>
<rect x="850.9" y="312.55" width="128.9" height="31.2" fill="#078541" stroke="#40a23a" stroke-width="1.8"/>
<rect x="850.9" y="375.60" width="124.3" height="31.2" fill="#078541" stroke="#40a23a" stroke-width="1.8"/>
<rect x="850.9" y="438.65" width="78.7" height="31.2" fill="#078541" stroke="#40a23a" stroke-width="1.8"/>
<rect x="850.9" y="501.70" width="74.2" height="31.2" fill="#078541" stroke="#40a23a" stroke-width="1.8"/>
<rect x="850.9" y="564.75" width="65.0" height="31.2" fill="#078541" stroke="#40a23a" stroke-width="1.8"/>
<rect x="850.9" y="627.80" width="60.5" height="31.2" fill="#078541" stroke="#40a23a" stroke-width="1.8"/>
<rect x="850.9" y="690.85" width="51.4" height="31.2" fill="#078541" stroke="#40a23a" stroke-width="1.8"/>
<rect x="850.9" y="753.90" width="46.8" height="31.2" fill="#078541" stroke="#40a23a" stroke-width="1.8"/>
<rect x="850.9" y="816.95" width="37.7" height="31.2" fill="#078541" stroke="#40a23a" stroke-width="1.8"/>
<rect x="850.9" y="880.00" width="28.6" height="31.2" fill="#078541" stroke="#40a23a" stroke-width="1.8"/>
<rect x="846.7" y="942.25" width="5.1" height="31.4" fill="#dc1b21" stroke="#e23572" stroke-width="1.6"/>
<rect x="833.0" y="1005.30" width="18.8" height="31.4" fill="#dc1b21" stroke="#e23572" stroke-width="1.6"/>
<rect x="814.7" y="1068.35" width="37.1" height="31.4" fill="#dc1b21" stroke="#e23572" stroke-width="1.6"/>
<rect x="810.2" y="1131.40" width="41.6" height="31.4" fill="#dc1b21" stroke="#e23572" stroke-width="1.6"/>
<rect x="805.6" y="1194.45" width="46.2" height="31.4" fill="#dc1b21" stroke="#e23572" stroke-width="1.6"/>
<rect x="741.6" y="1257.50" width="110.2" height="31.4" fill="#dc1b21" stroke="#e23572" stroke-width="1.6"/>
<rect x="737.0" y="1320.55" width="114.8" height="31.4" fill="#dc1b21" stroke="#e23572" stroke-width="1.6"/>
<rect x="705.1" y="1383.60" width="146.7" height="31.4" fill="#dc1b21" stroke="#e23572" stroke-width="1.6"/>
<rect x="691.3" y="1446.65" width="160.5" height="31.4" fill="#dc1b21" stroke="#e23572" stroke-width="1.6"/>
<rect x="663.9" y="1509.70" width="187.9" height="31.4" fill="#dc1b21" stroke="#e23572" stroke-width="1.6"/>
<rect x="599.9" y="1572.75" width="251.9" height="31.4" fill="#dc1b21" stroke="#e23572" stroke-width="1.6"/>
<rect x="572.5" y="1635.80" width="279.3" height="31.4" fill="#dc1b21" stroke="#e23572" stroke-width="1.6"/>
<rect x="522.3" y="1698.85" width="329.5" height="31.4" fill="#dc1b21" stroke="#e23572" stroke-width="1.6"/>
<rect x="394.3" y="1761.90" width="457.5" height="31.4" fill="#dc1b21" stroke="#e23572" stroke-width="1.6"/>
<text transform="translate(26.03,270.30) scale(0.8588,1)" font-size="37.7" font-weight="bold" fill="#1c140d">San Juan</text>
<text transform="translate(26.05,333.57) scale(0.8356,1)" font-size="37.7" font-weight="bold" fill="#1c140d">San Luis</text>
<text transform="translate(26.04,396.84) scale(0.8478,1)" font-size="37.7" font-weight="bold" fill="#1c140d">Stgo. del Estero</text>
<text transform="translate(25.69,460.11) scale(0.8680,1)" font-size="37.7" font-weight="bold" fill="#1c140d">Corrientes</text>
<text transform="translate(26.00,523.38) scale(0.8842,1)" font-size="37.7" font-weight="bold" fill="#1c140d">Salta</text>
<text transform="translate(25.74,586.65) scale(0.8381,1)" font-size="37.7" font-weight="bold" fill="#1c140d">Chaco</text>
<text transform="translate(26.67,649.92) scale(0.8759,1)" font-size="37.7" font-weight="bold" fill="#1c140d">Tucumán</text>
<text transform="translate(24.92,713.19) scale(0.8486,1)" font-size="37.7" font-weight="bold" fill="#1c140d">Mendoza</text>
<text transform="translate(24.92,776.46) scale(0.8494,1)" font-size="37.7" font-weight="bold" fill="#1c140d">Misiones</text>
<text transform="translate(24.96,839.73) scale(0.8343,1)" font-size="37.7" font-weight="bold" fill="#1c140d">Formosa</text>
<text transform="translate(24.91,903.00) scale(0.8520,1)" font-size="37.7" font-weight="bold" fill="#1c140d">La Pampa</text>
<text transform="translate(25.75,966.27) scale(0.8257,1)" font-size="37.7" font-weight="bold" fill="#1c140d">Córdoba</text>
<text transform="translate(26.52,1029.54) scale(0.8500,1)" font-size="37.7" font-weight="bold" fill="#1c140d">Jujuy</text>
<text transform="translate(26.04,1092.81) scale(0.8475,1)" font-size="37.7" font-weight="bold" fill="#1c140d">Santa Fe</text>
<text transform="translate(24.93,1156.08) scale(0.8453,1)" font-size="37.7" font-weight="bold" fill="#1c140d">Entre Ríos</text>
<text transform="translate(25.71,1219.35) scale(0.8547,1)" font-size="37.7" font-weight="bold" fill="#1c140d">Chubut</text>
<text transform="translate(24.95,1282.62) scale(0.8372,1)" font-size="37.7" font-weight="bold" fill="#1c140d">Buenos Aires</text>
<text transform="translate(26.04,1345.89) scale(0.8518,1)" font-size="37.7" font-weight="bold" fill="#1c140d">Santa Cruz</text>
<text transform="translate(24.95,1409.16) scale(0.8349,1)" font-size="37.7" font-weight="bold" fill="#1c140d">Río Negro</text>
<text transform="translate(25.77,1472.43) scale(0.8155,1)" font-size="37.7" font-weight="bold" fill="#1c140d">Gran Bs. As.</text>
<text transform="translate(25.69,1535.70) scale(0.8685,1)" font-size="37.7" font-weight="bold" fill="#1c140d">Capital Federal</text>
<text transform="translate(25.69,1598.97) scale(0.8711,1)" font-size="37.7" font-weight="bold" fill="#1c140d">Catamarca</text>
<text transform="translate(24.89,1662.24) scale(0.8629,1)" font-size="37.7" font-weight="bold" fill="#1c140d">Neuquén</text>
<text transform="translate(26.68,1725.51) scale(0.8429,1)" font-size="37.7" font-weight="bold" fill="#1c140d">Tierra del Fuego</text>
<text transform="translate(24.97,1788.78) scale(0.8300,1)" font-size="37.7" font-weight="bold" fill="#1c140d">La Rioja</text>
<text transform="translate(779.88,269.40) scale(0.9582,1)" font-size="35.6" font-weight="bold" fill="#0b8943" stroke="#0b8943" stroke-width="1.2" stroke-linejoin="round" stroke-miterlimit="2.5">5,3</text>
<text transform="translate(780.23,332.67) scale(0.9392,1)" font-size="35.6" font-weight="bold" fill="#0b8943" stroke="#0b8943" stroke-width="1.2" stroke-linejoin="round" stroke-miterlimit="2.5">2,8</text>
<text transform="translate(781.50,395.94) scale(0.8791,1)" font-size="35.6" font-weight="bold" fill="#0b8943" stroke="#0b8943" stroke-width="1.2" stroke-linejoin="round" stroke-miterlimit="2.5">2,7</text>
<text transform="translate(786.30,459.21) scale(0.7791,1)" font-size="35.6" font-weight="bold" fill="#0b8943" stroke="#0b8943" stroke-width="1.2" stroke-linejoin="round" stroke-miterlimit="2.5">1,7</text>
<text transform="translate(785.34,522.48) scale(0.8449,1)" font-size="35.6" font-weight="bold" fill="#0b8943" stroke="#0b8943" stroke-width="1.2" stroke-linejoin="round" stroke-miterlimit="2.5">1,6</text>
<text transform="translate(784.84,585.75) scale(0.8470,1)" font-size="35.6" font-weight="bold" fill="#0b8943" stroke="#0b8943" stroke-width="1.2" stroke-linejoin="round" stroke-miterlimit="2.5">1,4</text>
<text transform="translate(785.21,649.02) scale(0.8579,1)" font-size="35.6" font-weight="bold" fill="#0b8943" stroke="#0b8943" stroke-width="1.2" stroke-linejoin="round" stroke-miterlimit="2.5">1,3</text>
<text transform="translate(792.82,712.29) scale(0.6828,1)" font-size="35.6" font-weight="bold" fill="#0b8943" stroke="#0b8943" stroke-width="1.2" stroke-linejoin="round" stroke-miterlimit="2.5">1,1</text>
<text transform="translate(784.79,775.56) scale(0.8700,1)" font-size="35.6" font-weight="bold" fill="#0b8943" stroke="#0b8943" stroke-width="1.2" stroke-linejoin="round" stroke-miterlimit="2.5">1,0</text>
<text transform="translate(778.69,838.83) scale(0.9895,1)" font-size="35.6" font-weight="bold" fill="#0b8943" stroke="#0b8943" stroke-width="1.2" stroke-linejoin="round" stroke-miterlimit="2.5">0,8</text>
<text transform="translate(778.67,902.10) scale(1.0018,1)" font-size="35.6" font-weight="bold" fill="#0b8943" stroke="#0b8943" stroke-width="1.2" stroke-linejoin="round" stroke-miterlimit="2.5">0,6</text>
<text transform="translate(879.40,966.87) scale(0.8418,1)" font-size="35.6" font-weight="bold" fill="#d8232a" stroke="#d8232a" stroke-width="1.2" stroke-linejoin="round" stroke-miterlimit="2.5">-0,1</text>
<text transform="translate(871.71,1030.14) scale(0.9777,1)" font-size="35.6" font-weight="bold" fill="#d8232a" stroke="#d8232a" stroke-width="1.2" stroke-linejoin="round" stroke-miterlimit="2.5">-0,4</text>
<text transform="translate(871.69,1093.41) scale(0.9925,1)" font-size="35.6" font-weight="bold" fill="#d8232a" stroke="#d8232a" stroke-width="1.2" stroke-linejoin="round" stroke-miterlimit="2.5">-0,8</text>
<text transform="translate(871.68,1156.68) scale(0.9955,1)" font-size="35.6" font-weight="bold" fill="#d8232a" stroke="#d8232a" stroke-width="1.2" stroke-linejoin="round" stroke-miterlimit="2.5">-0,9</text>
<text transform="translate(879.35,1219.95) scale(0.8787,1)" font-size="35.6" font-weight="bold" fill="#d8232a" stroke="#d8232a" stroke-width="1.2" stroke-linejoin="round" stroke-miterlimit="2.5">-1,0</text>
<text transform="translate(873.02,1283.22) scale(0.9693,1)" font-size="35.6" font-weight="bold" fill="#d8232a" stroke="#d8232a" stroke-width="1.2" stroke-linejoin="round" stroke-miterlimit="2.5">-2,4</text>
<text transform="translate(874.65,1346.49) scale(0.9488,1)" font-size="35.6" font-weight="bold" fill="#d8232a" stroke="#d8232a" stroke-width="1.2" stroke-linejoin="round" stroke-miterlimit="2.5">-2,5</text>
<text transform="translate(874.12,1409.76) scale(0.9660,1)" font-size="35.6" font-weight="bold" fill="#d8232a" stroke="#d8232a" stroke-width="1.2" stroke-linejoin="round" stroke-miterlimit="2.5">-3,2</text>
<text transform="translate(873.41,1473.03) scale(0.9742,1)" font-size="35.6" font-weight="bold" fill="#d8232a" stroke="#d8232a" stroke-width="1.2" stroke-linejoin="round" stroke-miterlimit="2.5">-3,5</text>
<text transform="translate(879.08,1536.30) scale(0.8537,1)" font-size="35.6" font-weight="bold" fill="#d8232a" stroke="#d8232a" stroke-width="1.2" stroke-linejoin="round" stroke-miterlimit="2.5">-4,1</text>
<text transform="translate(873.93,1599.57) scale(0.9641,1)" font-size="35.6" font-weight="bold" fill="#d8232a" stroke="#d8232a" stroke-width="1.2" stroke-linejoin="round" stroke-miterlimit="2.5">-5,5</text>
<text transform="translate(880.31,1662.84) scale(0.8334,1)" font-size="35.6" font-weight="bold" fill="#d8232a" stroke="#d8232a" stroke-width="1.2" stroke-linejoin="round" stroke-miterlimit="2.5">-6,1</text>
<text transform="translate(879.34,1726.11) scale(0.8872,1)" font-size="35.6" font-weight="bold" fill="#d8232a" stroke="#d8232a" stroke-width="1.2" stroke-linejoin="round" stroke-miterlimit="2.5">-7,2</text>
<text transform="translate(887.74,1789.38) scale(0.8869,1)" font-size="35.6" font-weight="bold" fill="#d8232a" stroke="#d8232a" stroke-width="1.2" stroke-linejoin="round" stroke-miterlimit="2.5">-10</text>
<text transform="translate(1019.81,1857.45) scale(0.7936,1)" font-size="29" font-weight="normal" fill="#1c140d" stroke="#1c140d" stroke-width="0.7" stroke-linejoin="round" stroke-miterlimit="2.5">Fuente: Invecom</text>
</svg></body></html>
